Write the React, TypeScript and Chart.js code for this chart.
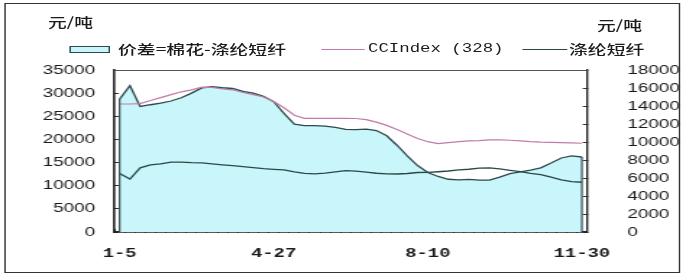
import React, { useEffect, useRef } from 'react';
import { Chart, registerables } from 'chart.js';

Chart.register(...registerables);

// ---------- DATA ----------
const xTickLabels = ['1-5', '4-27', '8-10', '11-30'];
const xTickIndex = [0, 15, 30, 45];

// CCIndex(328), left axis (元/吨)
const ccIndex = [
  27650, 27650, 27740, 28420, 29030, 29690, 30290, 30720, 31295, 31250,
  30905, 30725, 30135, 29665, 29160, 28200, 26845, 25230, 24560, 24560,
  24560, 24560, 24560, 24525, 24265, 23730, 23030, 22160, 21190, 20200,
  19515, 19105, 19300, 19520, 19670, 19760, 19895, 19920, 19825, 19670,
  19515, 19405, 19380, 19325, 19250, 19175,
];

// 涤纶短纤, left axis (元/吨)
const psf = [
  12650, 11450, 13860, 14505, 14740, 15105, 15110, 14980, 14945, 14740,
  14525, 14325, 14145, 13930, 13705, 13550, 13400, 13005, 12660, 12560,
  12730, 13000, 13240, 13150, 12920, 12690, 12555, 12530, 12640, 12850,
  12890, 13020, 13180, 13415, 13555, 13785, 13865, 13650, 13320, 13020,
  12665, 12400, 11850, 11250, 10870, 10750,
];

// 价差=棉花-涤纶短纤, right axis (元/吨)
const spread = [
  14770, 16250, 13950, 14140, 14310, 14555, 14920, 15430, 16005, 16140,
  16030, 15945, 15620, 15430, 15080, 14475, 13175, 11985, 11811, 11811,
  11770, 11620, 11400, 11370, 11430, 11275, 10690, 9640, 8470, 7380,
  6610, 6170, 5860, 5785, 5845, 5765, 5765, 6100, 6475, 6670,
  6870, 7125, 7660, 8225, 8450, 8335,
];

const leftTicks = { min: 0, max: 35000, step: 5000 };
const rightTicks = { min: 0, max: 18000, step: 2000 };

const categories = spread.map((_, i) => {
  const k = xTickIndex.indexOf(i);
  return k >= 0 ? xTickLabels[k] : '';
});

// ---------- STYLE ----------
const W = 474;
const H = 277;
const S = 686 / W; // horizontal stretch of the original picture
const AREA_FILL = '#C9F6FA';
const AREA_BORDER = '#2E4A4E';
const PINK = '#C27BA8';
const DARK = '#2B4848';
const AXIS = '#222';
const TEXT = '#1a1a1a';
const CJK = '"Noto Sans CJK SC", sans-serif';
const SANS = '"Liberation Sans", Arial, sans-serif';
const MONO = '"Liberation Mono", monospace';

const framePlugin = {
  id: 'frameAndEdges',
  afterDatasetsDraw(chart: any) {
    const { ctx, chartArea } = chart;
    const meta = chart.getDatasetMeta(2);
    const pts = meta.data;
    const yb = chart.scales.y1.getPixelForValue(0);
    ctx.save();
    ctx.strokeStyle = AREA_BORDER;
    ctx.lineWidth = 1.2;
    [pts[0], pts[pts.length - 1]].forEach((p: any) => {
      ctx.beginPath();
      ctx.moveTo(p.x, p.y);
      ctx.lineTo(p.x, yb);
      ctx.stroke();
    });
    ctx.strokeStyle = '#555';
    ctx.lineWidth = 1;
    ctx.beginPath();
    ctx.moveTo(chartArea.left, chartArea.top + 0.5);
    ctx.lineTo(chartArea.right, chartArea.top + 0.5);
    ctx.stroke();
    ctx.restore();
  },
};

export default function App() {
  const ref = useRef<HTMLCanvasElement>(null);

  useEffect(() => {
    if (!ref.current) return;
    const chart = new Chart(ref.current, {
      type: 'line',
      data: {
        labels: categories,
        datasets: [
          {
            label: 'CCIndex (328)',
            data: ccIndex,
            yAxisID: 'y',
            borderColor: PINK,
            borderWidth: 1.2,
            pointRadius: 0,
            fill: false,
            tension: 0,
            order: 1,
          },
          {
            label: '涤纶短纤',
            data: psf,
            yAxisID: 'y',
            borderColor: DARK,
            borderWidth: 1.3,
            pointRadius: 0,
            fill: false,
            tension: 0,
            order: 2,
          },
          {
            label: '价差=棉花-涤纶短纤',
            data: spread,
            yAxisID: 'y1',
            borderColor: AREA_BORDER,
            backgroundColor: AREA_FILL,
            borderWidth: 1.3,
            pointRadius: 0,
            fill: 'origin',
            tension: 0,
            order: 3,
          },
        ],
      },
      options: {
        responsive: false,
        animation: false,
        layout: { padding: { top: 70, left: 0, right: 0, bottom: 0 } },
        plugins: {
          legend: { display: false },
          tooltip: { enabled: false },
          title: { display: false },
        },
        scales: {
          x: {
            type: 'category',
            offset: true,
            z: 1,
            grid: {
              offset: true,
              drawOnChartArea: false,
              drawTicks: true,
              tickLength: -3,
              color: '#333',
              lineWidth: 1,
            },
            border: { display: true, color: AXIS, width: 1.8 },
            ticks: {
              autoSkip: false,
              maxRotation: 0,
              minRotation: 0,
              padding: 17,
              color: TEXT,
              font: { family: MONO, size: 13, weight: 'bold' },
              callback: (_v: any, i: number) => categories[i],
            },
            afterFit: (s: any) => {
              s.height = 45;
            },
          },
          y: {
            position: 'left',
            min: leftTicks.min,
            max: leftTicks.max,
            z: 1,
            grid: { drawOnChartArea: false, drawTicks: true, tickLength: -3, color: '#333' },
            border: { display: true, color: AXIS, width: 1.6 },
            ticks: {
              stepSize: leftTicks.step,
              autoSkip: false,
              padding: 16.5,
              color: TEXT,
              font: { family: SANS, size: 13 },
              callback: (v: any) => String(v),
            },
            afterFit: (s: any) => {
              s.width = 114.5 / S;
            },
          },
          y1: {
            position: 'right',
            min: rightTicks.min,
            max: rightTicks.max,
            z: 1,
            grid: { drawOnChartArea: false, drawTicks: true, tickLength: -3, color: '#333' },
            border: { display: true, color: AXIS, width: 1.4 },
            ticks: {
              stepSize: rightTicks.step,
              autoSkip: false,
              padding: 31,
              color: TEXT,
              font: { family: SANS, size: 13 },
              callback: (v: any) => String(v),
            },
            afterFit: (s: any) => {
              s.width = W - 587 / S;
            },
          },
        },
      },
      plugins: [framePlugin],
    } as any);
    return () => chart.destroy();
  }, []);

  const txt = (left: number, cy: number, text: string, font: string, size: number, weight = 500) => (
    <div
      style={{
        position: 'absolute',
        left,
        top: cy - 9,
        lineHeight: '18px',
        height: 18,
        fontFamily: font,
        fontSize: size,
        fontWeight: weight,
        color: TEXT,
        whiteSpace: 'nowrap',
      }}
    >
      {text}
    </div>
  );

  return (
    <div
      style={{
        position: 'absolute',
        left: 0,
        top: 0,
        width: W,
        height: H,
        background: '#fff',
        transform: `scaleX(${S})`,
        transformOrigin: '0 0',
        overflow: 'hidden',
      }}
    >
      <canvas
        ref={ref}
        width={W}
        height={H}
        style={{ position: 'absolute', left: 0, top: 0, width: W, height: H }}
      />
      <div
        style={{
          position: 'absolute',
          left: 5 / S,
          top: 3,
          width: 677 / S - 3,
          height: 268,
          border: '1.5px solid #333',
        }}
      />
      {txt(48 / S, 22, '元/吨', CJK, 13)}
      {txt(597 / S, 25, '元/吨', CJK, 13)}
      <div
        style={{
          position: 'absolute',
          left: 70 / S,
          top: 46,
          width: 40 / S - 2,
          height: 5,
          background: AREA_FILL,
          border: `1px solid ${AREA_BORDER}`,
        }}
      />
      {txt(118 / S, 49, '价差=棉花-涤纶短纤', CJK, 13)}
      <div
        style={{
          position: 'absolute',
          left: 322 / S,
          top: 49,
          width: 43 / S,
          height: 0,
          borderTop: `1.2px solid ${PINK}`,
        }}
      />
      {txt(368 / S, 49, 'CCIndex (328)', MONO, 12, 400)}
      <div
        style={{
          position: 'absolute',
          left: 522 / S,
          top: 49,
          width: 45 / S,
          height: 0,
          borderTop: `1.3px solid ${DARK}`,
        }}
      />
      {txt(569 / S, 49, '涤纶短纤', CJK, 13)}
    </div>
  );
}
